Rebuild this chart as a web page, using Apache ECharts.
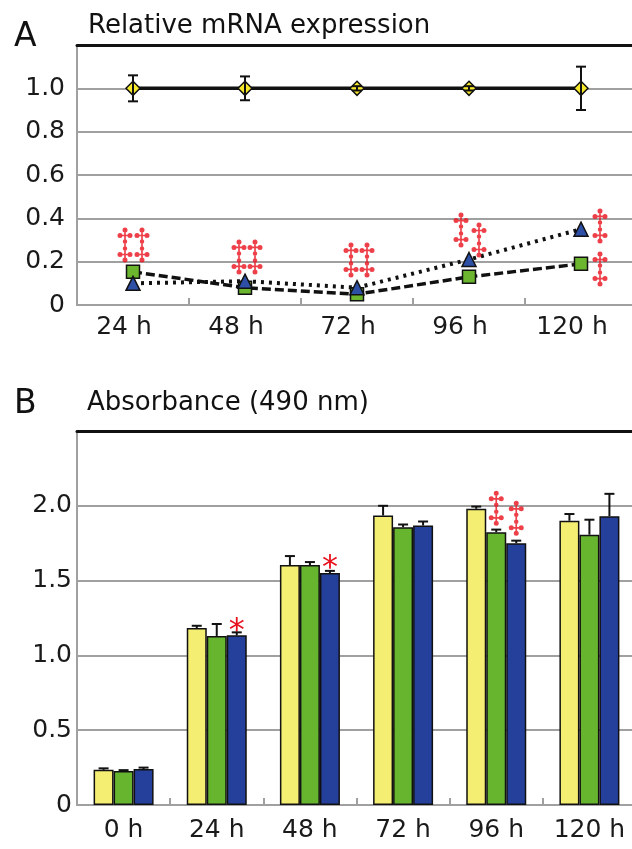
<!DOCTYPE html>
<html>
<head>
<meta charset="utf-8">
<script src="https://cdn.jsdelivr.net/npm/echarts@6/dist/echarts.min.js"></script>
<style>
html, body { margin: 0; padding: 0; background: #fff; }
#chart { width: 632px; height: 849px; }
</style>
</head>
<body>
<div id="chart"></div>
<script>
// panel A - relative mRNA expression
const hoursA = ['24 h', '48 h', '72 h', '96 h', '120 h'];
const ctrlA = [1.0, 1.0, 1.0, 1.0, 1.0];
const ctrlErrA = [0.06, 0.055, 0.01, 0.01, 0.1];
const squareA = [0.153, 0.08, 0.05, 0.13, 0.19];
const triangleA = [0.10, 0.11, 0.08, 0.21, 0.35];
// double dagger marks: [category index, y value of the mark centre]
const daggersA = [[0, 0.277], [0, 0.277], [1, 0.222], [1, 0.222], [2, 0.208], [2, 0.208],
                  [3, 0.346], [3, 0.30], [4, 0.365], [4, 0.166]];

// panel B - absorbance (490 nm)
const hoursB = ['0 h', '24 h', '48 h', '72 h', '96 h', '120 h'];
const yellowB = [0.235, 1.183, 1.604, 1.935, 1.98, 1.90];
const yellowErrB = [0.01, 0.015, 0.06, 0.065, 0.015, 0.045];
const greenB = [0.228, 1.13, 1.604, 1.857, 1.823, 1.807];
const greenErrB = [0.005, 0.08, 0.02, 0.018, 0.018, 0.10];
const blueB = [0.24, 1.134, 1.55, 1.868, 1.75, 1.93];
const blueErrB = [0.01, 0.02, 0.015, 0.027, 0.017, 0.15];
const starsBlueB = ['', '*', '*', '', '', ''];
const daggersB = [[4, 1.983], [4, 1.916]];

const FONT = 'DejaVu Sans';
const GRAY = '#a0a0a0';
const RED = '#e8101c';
const BAR_W = 20;

// horizontal nudges (px) of each dagger from its category centre
const shiftA = [-8, 9, -6, 10, -6, 10, -8, 10, 19, 19];
const shiftB = [0, BAR_W];

// double dagger drawn as two dotted crosses on a stem
function dot(cx, cy, r) {
    return 'M' + (cx - r) + ',' + cy + ' a' + r + ',' + r + ' 0 1,1 ' + (2 * r) + ',0' +
           ' a' + r + ',' + r + ' 0 1,1 ' + (-2 * r) + ',0 Z ';
}
const DAGGER = 'path://M13.3,5 L16.7,5 L16.7,65 L13.3,65 Z M5,14.3 L25,14.3 L25,17.7 L5,17.7 Z ' +
    'M5,52.3 L25,52.3 L25,55.7 L5,55.7 Z ' +
    dot(15, 5, 5) + dot(5, 16, 5) + dot(25, 16, 5) + dot(15, 28, 4.5) +
    dot(15, 42, 4.5) + dot(5, 54, 5) + dot(25, 54, 5) + dot(15, 65, 5);

let chart = echarts.init(document.getElementById('chart'));

function errorBars(axisIdx, values, errs, shift, both) {
    return {
        type: 'custom',
        xAxisIndex: axisIdx,
        yAxisIndex: axisIdx,
        z: 6,
        silent: true,
        data: values.map((v, i) => [i, v, errs[i]]),
        renderItem: function (params, api) {
            let c = api.coord([api.value(0), api.value(1)]);
            let x = c[0] + shift;
            let yTop = api.coord([api.value(0), api.value(1) + api.value(2)])[1];
            let yBot = both ? api.coord([api.value(0), api.value(1) - api.value(2)])[1] : c[1];
            let st = { stroke: '#111', lineWidth: 2 };
            let kids = [
                { type: 'line', shape: { x1: x, y1: yBot, x2: x, y2: yTop }, style: st },
                { type: 'line', shape: { x1: x - 5, y1: yTop, x2: x + 5, y2: yTop }, style: st }
            ];
            if (both) {
                kids.push({ type: 'line', shape: { x1: x - 5, y1: yBot, x2: x + 5, y2: yBot }, style: st });
            }
            return { type: 'group', children: kids };
        }
    };
}

function daggerSeries(axisIdx, marks, shifts) {
    return {
        type: 'scatter', xAxisIndex: axisIdx, yAxisIndex: axisIdx, z: 7, silent: true,
        symbol: DAGGER, symbolSize: [15, 35],
        itemStyle: { color: RED },
        data: marks.map((d, i) => ({ value: d, symbolOffset: [shifts[i], 0] }))
    };
}

function catAxis(gridIdx, data, pad, margin) {
    return {
        type: 'category',
        gridIndex: gridIdx,
        data: data,
        boundaryGap: true,
        axisLine: { lineStyle: { color: GRAY, width: 2 } },
        axisTick: { show: true, inside: true, length: 7, lineStyle: { color: GRAY, width: 2 } },
        axisLabel: { fontFamily: FONT, fontSize: 25, color: '#1a1a1a', margin: margin, padding: pad },
        splitLine: { show: false }
    };
}

function topAxis(gridIdx, data) {
    return {
        type: 'category',
        gridIndex: gridIdx,
        data: data,
        position: 'top',
        axisLine: { lineStyle: { color: '#111', width: 3 } },
        axisTick: { show: false },
        axisLabel: { show: false }
    };
}

function valAxis(gridIdx, max, interval, margin) {
    return {
        type: 'value',
        gridIndex: gridIdx,
        min: 0,
        max: max,
        interval: interval,
        axisLine: { show: true, lineStyle: { color: GRAY, width: 2 } },
        axisTick: { show: false },
        splitLine: { lineStyle: { color: GRAY, width: 2 } },
        axisLabel: {
            fontFamily: FONT, fontSize: 25, color: '#1a1a1a', margin: margin,
            formatter: function (v) {
                if (v === 0) return '0';
                if (v > max - interval / 2) return '';
                return v.toFixed(1);
            }
        }
    };
}

function barItems(values, marks) {
    return values.map((v, i) => {
        if (!marks[i]) return v;
        return {
            value: v,
            label: {
                show: true, position: 'top', formatter: marks[i], color: RED,
                fontFamily: FONT, fontSize: 32, distance: -12
            }
        };
    });
}

chart.setOption({
    animation: false,
    title: [
        { text: 'A', left: 9, top: 16, textStyle: { fontFamily: FONT, fontSize: 33, fontWeight: 'normal', color: '#111' } },
        { text: 'Relative mRNA expression', left: 83, top: 8, textStyle: { fontFamily: FONT, fontSize: 26, fontWeight: 'normal', color: '#111' } },
        { text: 'B', left: 9, top: 383, textStyle: { fontFamily: FONT, fontSize: 33, fontWeight: 'normal', color: '#111' } },
        { text: 'Absorbance (490 nm)', left: 82, top: 385, textStyle: { fontFamily: FONT, fontSize: 26, fontWeight: 'normal', color: '#111' } }
    ],
    grid: [
        { left: 77, top: 45, width: 560, height: 260, containLabel: false, outerBoundsMode: 'none' },
        { left: 77, top: 431, width: 559, height: 374, containLabel: false, outerBoundsMode: 'none' }
    ],
    xAxis: [
        catAxis(0, hoursA, [0, 18, 0, 0], 10),
        catAxis(1, hoursB, 0, 13),
        topAxis(0, hoursA),
        topAxis(1, hoursB)
    ],
    yAxis: [
        valAxis(0, 1.2, 0.2, 12),
        valAxis(1, 2.5, 0.5, 5)
    ],
    series: [
        {
            name: 'control', type: 'line', xAxisIndex: 0, yAxisIndex: 0, z: 4,
            data: ctrlA,
            symbol: 'diamond', symbolSize: 14,
            itemStyle: { color: '#f6e82a', borderColor: '#111', borderWidth: 1.5 },
            lineStyle: { color: '#111', width: 3.5 }
        },
        errorBars(0, ctrlA, ctrlErrA, 0, true),
        {
            name: 'square', type: 'line', xAxisIndex: 0, yAxisIndex: 0, z: 4,
            data: squareA,
            symbol: 'rect', symbolSize: 13,
            itemStyle: { color: '#6cb52e', borderColor: '#111', borderWidth: 1.5 },
            lineStyle: { color: '#111', width: 3.5, type: [9, 4] }
        },
        {
            name: 'triangle', type: 'line', xAxisIndex: 0, yAxisIndex: 0, z: 5,
            data: triangleA,
            symbol: 'triangle', symbolSize: 14,
            itemStyle: { color: '#2d4fa6', borderColor: '#111', borderWidth: 1.5 },
            lineStyle: { color: '#111', width: 4, type: [3, 5] }
        },
        daggerSeries(0, daggersA, shiftA),
        {
            name: 'yellow', type: 'bar', xAxisIndex: 1, yAxisIndex: 1,
            data: yellowB, barWidth: BAR_W, barGap: '0%',
            itemStyle: { color: '#f4ee72', borderColor: '#111', borderWidth: 1.5 }
        },
        {
            name: 'green', type: 'bar', xAxisIndex: 1, yAxisIndex: 1,
            data: greenB, barWidth: BAR_W, barGap: '0%',
            itemStyle: { color: '#67b52f', borderColor: '#111', borderWidth: 1.5 }
        },
        {
            name: 'blue', type: 'bar', xAxisIndex: 1, yAxisIndex: 1,
            data: barItems(blueB, starsBlueB), barWidth: BAR_W, barGap: '0%',
            itemStyle: { color: '#24409a', borderColor: '#111', borderWidth: 1.5 }
        },
        errorBars(1, yellowB, yellowErrB, -BAR_W, false),
        errorBars(1, greenB, greenErrB, 0, false),
        errorBars(1, blueB, blueErrB, BAR_W, false),
        daggerSeries(1, daggersB, shiftB)
    ]
});
</script>
</body>
</html>
